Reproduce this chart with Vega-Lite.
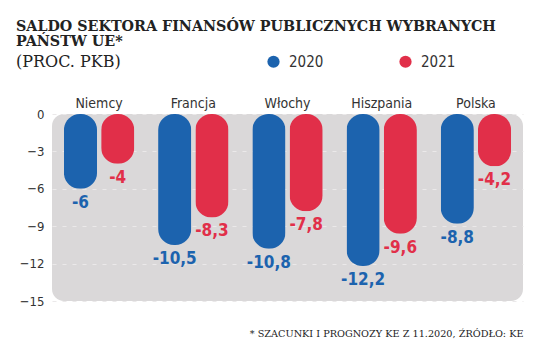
{
  "$schema": "https://vega.github.io/schema/vega-lite/v6.json",
  "autosize": {"type": "none"},
  "width": 471,
  "height": 187,
  "padding": {"left": 52, "top": 114, "right": 13, "bottom": 56},
  "background": "#ffffff",
  "config": {
    "view": {"fill": "#dad8d9", "cornerRadius": 12, "stroke": null}
  },
  "title": {
    "text": ["SALDO SEKTORA FINANSÓW PUBLICZNYCH WYBRANYCH", "PAŃSTW UE*"],
    "subtitle": "(PROC. PKB)",
    "anchor": "start",
    "frame": "group",
    "dx": -36,
    "offset": -16,
    "font": "DejaVu Serif",
    "fontSize": 14.3,
    "fontWeight": "bold",
    "lineHeight": 15,
    "color": "#222222",
    "subtitleFont": "DejaVu Serif",
    "subtitleFontSize": 16,
    "subtitleColor": "#222222",
    "subtitlePadding": 5
  },
  "data": {
    "values": [
      {"kraj": "Niemcy", "rok": "2020", "wartosc": -6, "etykieta": "-6"},
      {"kraj": "Niemcy", "rok": "2021", "wartosc": -4, "etykieta": "-4"},
      {"kraj": "Francja", "rok": "2020", "wartosc": -10.5, "etykieta": "-10,5"},
      {"kraj": "Francja", "rok": "2021", "wartosc": -8.3, "etykieta": "-8,3"},
      {"kraj": "Włochy", "rok": "2020", "wartosc": -10.8, "etykieta": "-10,8"},
      {"kraj": "Włochy", "rok": "2021", "wartosc": -7.8, "etykieta": "-7,8"},
      {"kraj": "Hiszpania", "rok": "2020", "wartosc": -12.2, "etykieta": "-12,2"},
      {"kraj": "Hiszpania", "rok": "2021", "wartosc": -9.6, "etykieta": "-9,6"},
      {"kraj": "Polska", "rok": "2020", "wartosc": -8.8, "etykieta": "-8,8"},
      {"kraj": "Polska", "rok": "2021", "wartosc": -4.2, "etykieta": "-4,2"}
    ]
  },
  "encoding": {
    "x": {
      "field": "kraj",
      "type": "nominal",
      "sort": ["Niemcy", "Francja", "Włochy", "Hiszpania", "Polska"],
      "scale": {"paddingInner": 0, "paddingOuter": 0}
    },
    "xOffset": {
      "field": "rok",
      "type": "nominal",
      "scale": {"paddingInner": 0.11, "paddingOuter": 0.32}
    },
    "y": {
      "field": "wartosc",
      "type": "quantitative",
      "scale": {"domain": [-15, 0], "nice": false, "zero": true},
      "axis": {
        "values": [0, -3, -6, -9, -12, -15],
        "title": null,
        "domain": false,
        "ticks": false,
        "labelPadding": 8,
        "labelFont": "DejaVu Sans Condensed",
        "labelFontSize": 13,
        "labelColor": "#333333",
        "grid": true,
        "gridColor": "#ebe9ea",
        "gridDash": [4, 6],
        "gridWidth": 1.2
      }
    }
  },
  "layer": [
    {
      "mark": {"type": "bar", "cornerRadius": 16},
      "encoding": {
        "color": {
          "field": "rok",
          "type": "nominal",
          "scale": {"domain": ["2020", "2021"], "range": ["#1c63ae", "#e12f49"]},
          "legend": {
            "title": null,
            "orient": "none",
            "direction": "horizontal",
            "legendX": 214,
            "legendY": -60,
            "symbolType": "circle",
            "symbolSize": 150,
            "symbolStrokeWidth": 0,
            "labelFont": "DejaVu Sans Condensed",
            "labelFontSize": 15,
            "labelColor": "#333333",
            "labelOffset": 8,
            "columnPadding": 74
          }
        },
        "x": {
          "field": "kraj",
          "type": "nominal",
          "sort": ["Niemcy", "Francja", "Włochy", "Hiszpania", "Polska"],
          "axis": {
            "orient": "top",
            "title": null,
            "domain": false,
            "ticks": false,
            "labelAngle": 0,
            "labelPadding": 4,
            "labelFont": "DejaVu Sans Condensed",
            "labelFontSize": 14,
            "labelColor": "#333333"
          }
        }
      }
    },
    {
      "mark": {
        "type": "text",
        "baseline": "top",
        "dy": 6,
        "font": "DejaVu Sans Condensed",
        "fontWeight": "bold",
        "fontSize": 17
      },
      "encoding": {
        "text": {"field": "etykieta"},
        "color": {"field": "rok", "type": "nominal", "legend": null},
        "x": {
          "field": "kraj",
          "type": "nominal",
          "sort": ["Niemcy", "Francja", "Włochy", "Hiszpania", "Polska"],
          "axis": {
            "orient": "bottom",
            "labels": false,
            "domain": false,
            "ticks": false,
            "title": "* SZACUNKI I PROGNOZY KE Z 11.2020, ŹRÓDŁO: KE",
            "titleAnchor": "end",
            "titleFont": "DejaVu Serif",
            "titleFontSize": 9.7,
            "titleFontWeight": "normal",
            "titleColor": "#222222",
            "titlePadding": 27
          }
        }
      }
    }
  ],
  "resolve": {"axis": {"x": "independent"}}
}
